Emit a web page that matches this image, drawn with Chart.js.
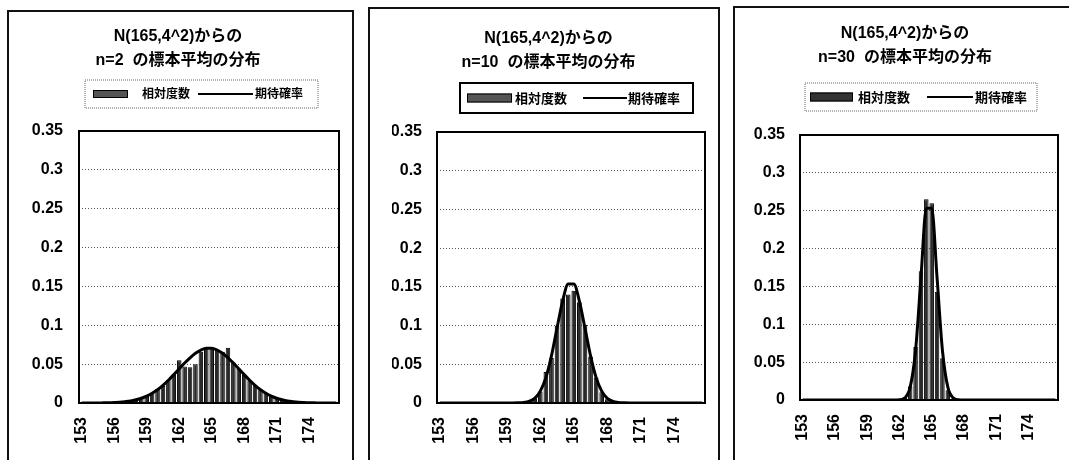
<!DOCTYPE html>
<html>
<head>
<meta charset="utf-8">
<script src="https://cdn.jsdelivr.net/npm/chart.js@4/dist/chart.umd.min.js"></script>
<style>
  html, body { margin: 0; padding: 0; background: #fff; width: 1069px; height: 460px; overflow: hidden; }
  .panel { position: absolute; border: 2px solid #111; box-sizing: border-box; background: #fff; }
  .panel canvas { position: absolute; left: 0; top: 0; }
</style>
</head>
<body>
<div class="panel" style="left:7px; top:10px; width:347px; height:470px;"><canvas id="c1" width="343" height="466"></canvas></div>
<div class="panel" style="left:368px; top:7px; width:352px; height:470px;"><canvas id="c2" width="348" height="466"></canvas></div>
<div class="panel" style="left:733px; top:6px; width:360px; height:470px;"><canvas id="c3" width="356" height="466"></canvas></div>
<script>
// Class marks (cm), bin width 0.5
const categories = ['153','153.5','154','154.5','155','155.5','156','156.5','157','157.5','158','158.5',
  '159','159.5','160','160.5','161','161.5','162','162.5','163','163.5','164','164.5',
  '165','165.5','166','166.5','167','167.5','168','168.5','169','169.5','170','170.5',
  '171','171.5','172','172.5','173','173.5','174','174.5','175','175.5','176','176.5'];
// Labels printed under the axis
const tickLabels = ['153','156','159','162','165','168','171','174'];
const seriesLabels = ['相対度数', '期待確率'];

const titleN2  = ['N(165,4^2)からの', 'n=2  の標本平均の分布'];
const titleN10 = ['N(165,4^2)からの', 'n=10  の標本平均の分布'];
const titleN30 = ['N(165,4^2)からの', 'n=30  の標本平均の分布'];

// n = 2
const freqN2 = [0,0,0,0,0,0,0.0005,0.001,0.0015,0.003,0.004,0.006,
  0.009,0.013,0.018,0.022,0.030,0.037,0.055,0.047,0.046,0.050,0.066,0.071,
  0.070,0.068,0.066,0.071,0.052,0.044,0.036,0.029,0.023,0.017,0.013,0.009,
  0.006,0.004,0.0025,0.0015,0.001,0.0005,0,0,0,0,0,0];
const expN2 = [0,0,0.0001,0.0001,0.0002,0.0003,0.0006,0.001,0.0017,0.0026,0.0041,0.0061,
  0.0089,0.0126,0.0172,0.0228,0.0293,0.0365,0.044,0.0514,0.0582,0.064,0.0681,0.0703,
  0.0703,0.0681,0.064,0.0582,0.0514,0.044,0.0365,0.0293,0.0228,0.0172,0.0126,0.0089,
  0.0061,0.0041,0.0026,0.0017,0.001,0.0006,0.0003,0.0002,0.0001,0.0001,0,0];

// n = 10
const freqN10 = [0,0,0,0,0,0,0,0,0,0,0,0,
  0,0,0.0005,0.001,0.002,0.006,0.015,0.040,0.058,0.100,0.135,0.140,
  0.145,0.130,0.101,0.060,0.033,0.014,0.005,0.002,0.0005,0,0,0,
  0,0,0,0,0,0,0,0,0,0,0,0];
const expN10 = [0,0,0,0,0,0,0,0,0,0,0,0,
  0,0,0.0002,0.0006,0.0021,0.006,0.0153,0.0328,0.0609,0.0968,0.1317,0.1537,
  0.1537,0.1317,0.0968,0.0609,0.0328,0.0153,0.006,0.0021,0.0006,0.0002,0,0,
  0,0,0,0,0,0,0,0,0,0,0,0];

// n = 30
const freqN30 = [0,0,0,0,0,0,0,0,0,0,0,0,
  0,0,0,0,0,0,0.0005,0.003,0.018,0.070,0.170,0.265,
  0.260,0.143,0.055,0.013,0.002,0,0,0,0,0,0,0,
  0,0,0,0,0,0,0,0,0,0,0,0];
const expN30 = [0,0,0,0,0,0,0,0,0,0,0,0,
  0,0,0,0,0,0,0.0003,0.0028,0.0169,0.0654,0.1614,0.2532,
  0.2532,0.1614,0.0654,0.0169,0.0028,0.0003,0,0,0,0,0,0,
  0,0,0,0,0,0,0,0,0,0,0,0];

const FONT = '"Liberation Sans", "Noto Sans CJK JP", Arial, sans-serif';
const BAR_FILL = '#2a2a2a';

// frame around the plotting area
const plotFrame = {
  id: 'plotFrame',
  afterDatasetsDraw(chart) {
    const { ctx, chartArea: a } = chart;
    ctx.save();
    ctx.strokeStyle = '#000';
    ctx.lineWidth = 2;
    ctx.strokeRect(a.left, a.top, a.right - a.left, a.bottom - a.top);
    ctx.restore();
  }
};

// boxed legend: bar swatch + label, line swatch + label
const legendBox = {
  id: 'legendBox',
  afterDraw(chart, args, o) {
    const ctx = chart.ctx;
    const ds = chart.data.datasets;
    const barDs = ds.find(d => d.type === 'bar');
    const lineDs = ds.find(d => d.type === 'line');
    const cy = o.y + o.h / 2;
    ctx.save();
    ctx.strokeStyle = o.frameColor;
    ctx.lineWidth = o.frameWidth;
    ctx.setLineDash(o.frameDash);
    ctx.strokeRect(o.x, o.y, o.w, o.h);
    ctx.setLineDash([]);
    // bar swatch
    ctx.fillStyle = o.swatchFill;
    ctx.fillRect(o.barX, cy - o.barH / 2, o.barW, o.barH);
    ctx.strokeStyle = '#000';
    ctx.lineWidth = 1;
    ctx.strokeRect(o.barX + 0.5, cy - o.barH / 2 + 0.5, o.barW - 1, o.barH - 1);
    // line swatch
    ctx.strokeStyle = lineDs.borderColor;
    ctx.lineWidth = 2;
    ctx.beginPath();
    ctx.moveTo(o.lineX, cy);
    ctx.lineTo(o.lineX + o.lineW, cy);
    ctx.stroke();
    // texts
    ctx.fillStyle = '#000';
    ctx.font = 'bold ' + o.fontSize + 'px ' + FONT;
    ctx.textBaseline = 'middle';
    ctx.textAlign = 'left';
    ctx.fillText(barDs.label, o.text1X, cy + 1);
    ctx.fillText(lineDs.label, o.text2X, cy + 1);
    ctx.restore();
  }
};

function makeChart(id, title, freq, expected, lay) {
  return new Chart(document.getElementById(id), {
    type: 'bar',
    data: {
      labels: categories,
      datasets: [
        {
          type: 'bar',
          label: seriesLabels[0],
          data: freq,
          backgroundColor: BAR_FILL,
          borderColor: '#000',
          borderWidth: 1,
          barPercentage: 0.84,
          categoryPercentage: 1.0,
          order: 1
        },
        {
          type: 'line',
          label: seriesLabels[1],
          data: expected,
          borderColor: '#000',
          borderWidth: 3,
          pointRadius: 0,
          fill: false,
          tension: 0.4,
          cubicInterpolationMode: 'monotone',
          order: 0
        }
      ]
    },
    options: {
      responsive: false,
      animation: false,
      events: [],
      layout: { padding: { left: lay.padL, right: lay.padR, top: 0, bottom: 0 } },
      plugins: {
        legend: { display: false },
        tooltip: { enabled: false },
        title: {
          display: true,
          text: title,
          color: '#000',
          font: { family: FONT, size: 16, weight: 'bold', lineHeight: 1.5 },
          padding: { top: lay.titleTop, bottom: lay.titleBottom }
        },
        legendBox: lay.legend
      },
      scales: {
        x: {
          grid: { display: false, drawTicks: false },
          border: { display: false },
          afterFit(scale) {
            scale.height = lay.xHeight;
            scale.paddingLeft = 0;
            scale.paddingRight = 0;
          },
          ticks: {
            autoSkip: false,
            minRotation: 90,
            maxRotation: 90,
            padding: 14,
            color: '#000',
            font: { family: FONT, size: 16, weight: 'bold' },
            callback(value, index) {
              const lab = categories[index];
              return tickLabels.includes(lab) ? lab : '';
            }
          }
        },
        y: {
          min: 0,
          max: 0.35,
          afterFit(scale) { scale.width = lay.yWidth; },
          grid: { color: '#555', lineWidth: 1, drawTicks: false },
          border: { display: false, dash: [1, 2] },
          ticks: {
            stepSize: 0.05,
            padding: lay.yPad,
            color: '#000',
            font: { family: FONT, size: 16, weight: 'bold' },
            callback(value) { return String(Number(value.toFixed(2))); }
          }
        }
      }
    },
    plugins: [plotFrame, legendBox]
  });
}

makeChart('c1', titleN2, freqN2, expN2, {
  padL: 8, padR: 13, yWidth: 62, xHeight: 75, titleTop: 13, titleBottom: 58, yPad: 16,
  legend: { x: 76, y: 68, w: 233, h: 28, frameColor: '#666', frameWidth: 1, frameDash: [1, 1],
            swatchFill: '#555', fontSize: 12, barX: 84, barW: 35, barH: 8, text1X: 133, lineX: 189, lineW: 55, text2X: 246 }
});
makeChart('c2', titleN10, freqN10, expN10, {
  padL: 22, padR: 13, yWidth: 45, xHeight: 72, titleTop: 18, titleBottom: 57, yPad: 15,
  legend: { x: 90, y: 74, w: 233, h: 30, frameColor: '#000', frameWidth: 2, frameDash: [],
            swatchFill: '#555', fontSize: 13, barX: 97, barW: 45, barH: 9, text1X: 145, lineX: 213, lineW: 44, text2X: 258 }
});
makeChart('c3', titleN30, freqN30, expN30, {
  padL: 17, padR: 33, yWidth: 48, xHeight: 74, titleTop: 14, titleBottom: 65, yPad: 15,
  legend: { x: 70, y: 75, w: 232, h: 28, frameColor: '#666', frameWidth: 1, frameDash: [1, 1],
            swatchFill: '#333', fontSize: 13, barX: 75, barW: 43, barH: 9, text1X: 123, lineX: 192, lineW: 46, text2X: 240 }
});
</script>
</body>
</html>
